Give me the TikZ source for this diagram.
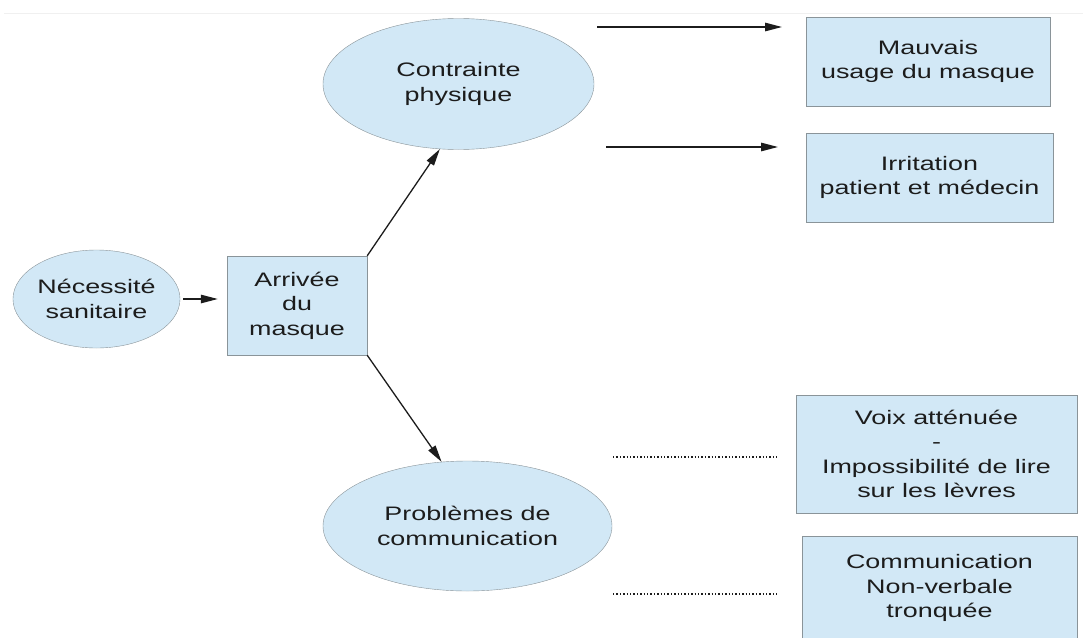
\documentclass[tikz,border=0pt]{standalone}
\usepackage{fontspec}
\setmainfont[FakeStretch=1.38]{Liberation Sans}
\usetikzlibrary{shapes.geometric,arrows.meta}
\definecolor{bleu}{HTML}{D2E8F6}
\definecolor{bord}{HTML}{8A9499}
\definecolor{texte}{HTML}{1C1C1C}

\begin{document}
\begin{tikzpicture}[x=1pt, y=-1pt, font=\fontsize{19.5}{24.5}\selectfont, text=texte]
    \tikzstyle{bulle}=[ellipse, draw=bord, fill=bleu, inner sep=0pt, align=center]
    \tikzstyle{boite}=[rectangle, draw=bord, fill=bleu, inner sep=0pt, align=center]
    \tikzstyle{fleche}=[-{Triangle[length=17pt,width=8.5pt]}, line width=1.3pt, draw=texte]
    \tikzstyle{pointille}=[dotted, line width=1.4pt, draw=texte]
    \useasboundingbox (0,0) rectangle (1083,637);
    \draw[gray!12, line width=1pt] (4,13) -- (1083,13);
    % noeuds
    \node [bulle, minimum width=167pt, minimum height=98pt] (besoin) at (96.5,299) {Nécessité\\sanitaire};
    \node [boite, minimum width=140pt, minimum height=99pt] (masque) at (297,305.5) {Arrivée\\du\\masque};
    \node [bulle, minimum width=271pt, minimum height=131pt] (contrainte) at (458.5,84) {Contrainte\\physique};
    \node [bulle, minimum width=289pt, minimum height=130pt] (probleme) at (467.5,526) {Problèmes de\\communication};
    \node [boite, minimum width=244pt, minimum height=89pt] (mauvais) at (928,61.5) {Mauvais\\usage du masque};
    \node [boite, minimum width=247pt, minimum height=89pt] (irritation) at (929.5,177.5) {Irritation\\patient et médecin};
    \node [boite, minimum width=281pt, minimum height=118pt] (voix) at (936.5,454) {Voix atténuée\\-\\Impossibilité de lire\\sur les lèvres};
    \node [boite, minimum width=275pt, minimum height=104pt] (nonverbal) at (939.5,588) {Communication\\Non-verbale\\tronquée};
    % bouts libres
    \coordinate (haut1) at (597,27);
    \coordinate (haut2) at (782,27);
    \coordinate (haut3) at (606,147);
    \coordinate (haut4) at (778,147);
    \coordinate (bas1) at (613,457);
    \coordinate (bas2) at (777,457);
    \coordinate (bas3) at (613,594);
    \coordinate (bas4) at (777,594);
    % liens
    \draw[fleche] ([xshift=3pt]besoin.east) -- ([xshift=-9pt]masque.west |- besoin.east);
    \draw[fleche] (masque.north east) -- (contrainte.-106);
    \draw[fleche] (masque.south east) -- (probleme.112);
    \draw[fleche] (haut1) -- (haut2);
    \draw[fleche] (haut3) -- (haut4);
    \draw[pointille] (bas1) -- (bas2);
    \draw[pointille] (bas3) -- (bas4);
\end{tikzpicture}
\end{document}
